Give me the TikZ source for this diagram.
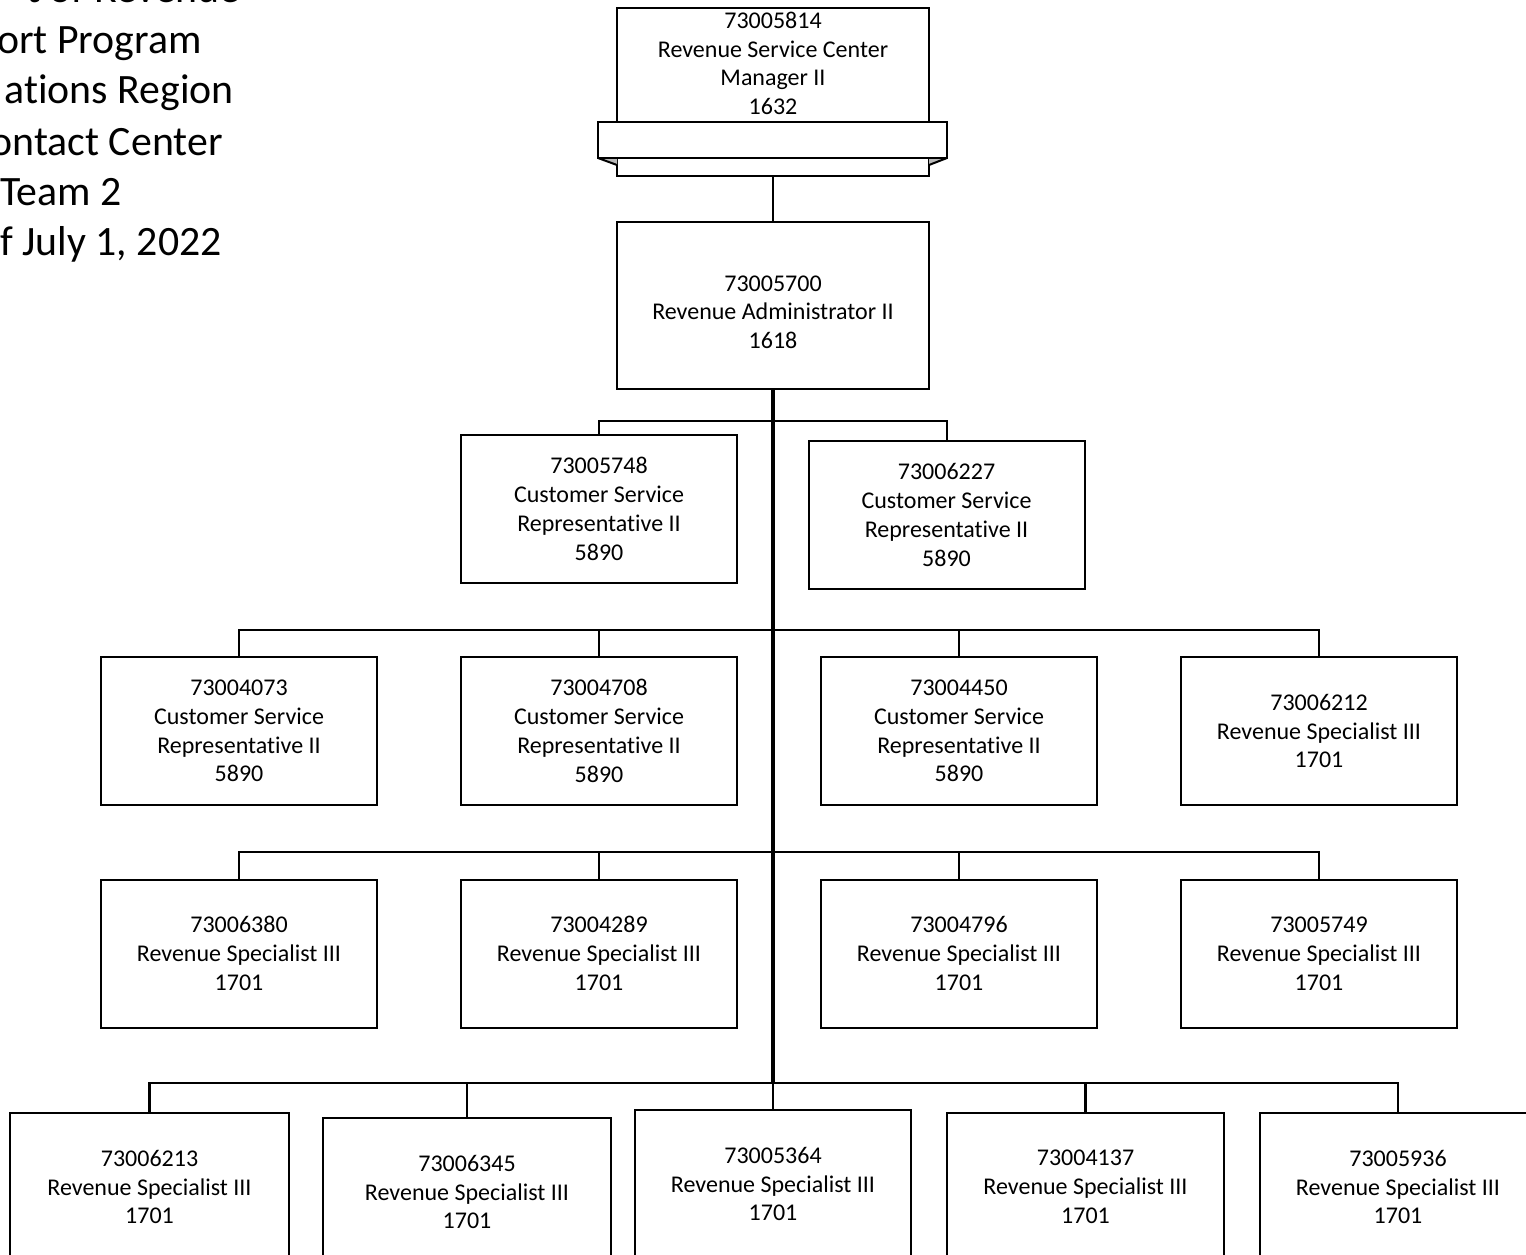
\documentclass[tikz,border=0pt]{standalone}
\usepackage{fontspec}
\setmainfont{Carlito}[Ligatures=NoCommon]
\begin{document}
\begin{tikzpicture}[x=0.5pt,y=-0.5pt,
  box/.style={draw, line width=1pt, fill=white, inner sep=0pt, align=center,
    minimum width=138pt, minimum height=74pt,
    font=\fontsize{12pt}{14.4pt}\selectfont},
  conn/.style={line width=1pt},
  trunk/.style={line width=2pt},
  title/.style={anchor=base east, inner sep=0pt, font=\fontsize{20.9pt}{25pt}\selectfont}]
\useasboundingbox (0,0) rectangle (1526,1254);

% heading, left margin
\node[title] (t1) at (241,2.5) {t of Revenue};
\node[title] (t2) at (202,53) {ort Program};
\node[title] (t3) at (234,103) {ations Region};
\node[title] (t4) at (223,155) {ontact Center};
\node[title] (t5) at (122,205) {Team 2};
\node[title] (t6) at (222,255) {f July 1, 2022};

% manager box with its banner
\node[box, minimum width=156pt, minimum height=84pt] (mgr) at (773,92)
  {73005814\\Revenue Service Center\\Manager II\\1632\\~\\~};
\fill[gray!55] (598,158) -- (617,158) -- (617,165) -- cycle;
\fill[gray!55] (947,158) -- (929,158) -- (929,165) -- cycle;
\draw[line width=1pt] (598,158) -- (617,165);
\draw[line width=1pt] (947,158) -- (929,165);
\node[draw, line width=1pt, fill=white, inner sep=0pt,
  minimum width=174.5pt, minimum height=18pt] (banner) at (772.5,140) {};

% administrator
\node[box, minimum width=156pt, minimum height=83.5pt] (admin) at (773,305.5)
  {~\\73005700\\Revenue Administrator II\\1618};

% row 1
\node[box] (a1) at (599,509) {73005748\\Customer Service\\Representative II\\5890};
\node[box] (a2) at (946.5,515) {73006227\\Customer Service\\Representative II\\5890};

% row 2
\node[box] (b1) at (239,731) {73004073\\Customer Service\\Representative II\\5890};
\node[box] (b2) at (599,731) {73004708\\Customer Service\\Representative II\\5890};
\node[box] (b3) at (959,731) {73004450\\Customer Service\\Representative II\\5890};
\node[box] (b4) at (1319,731) {73006212\\Revenue Specialist III\\1701};

% row 3
\node[box] (c1) at (239,953.5) {73006380\\Revenue Specialist III\\1701};
\node[box] (c2) at (599,953.5) {73004289\\Revenue Specialist III\\1701};
\node[box] (c3) at (959,953.5) {73004796\\Revenue Specialist III\\1701};
\node[box] (c4) at (1319,953.5) {73005749\\Revenue Specialist III\\1701};

% row 4
\node[box, minimum width=139.5pt] (d1) at (149.5,1187) {73006213\\Revenue Specialist III\\1701};
\node[box, minimum width=144pt] (d2) at (467,1192) {73006345\\Revenue Specialist III\\1701};
\node[box] (d3) at (773,1184) {73005364\\Revenue Specialist III\\1701};
\node[box, minimum width=138.5pt] (d4) at (1085.5,1187) {73004137\\Revenue Specialist III\\1701};
\node[box] (d5) at (1398,1187) {73005936\\Revenue Specialist III\\1701};

% connectors
\draw[conn] (mgr.south) -- (admin.north);
\coordinate (bus1) at (773,421);
\coordinate (bus2) at (773,630);
\coordinate (bus3) at (773,852);
\coordinate (bus4) at (773,1083);
\draw[trunk] (admin.south) -- (bus4);
\foreach \n in {a1,a2} \draw[conn] (bus1) -| (\n.north);
\foreach \n in {b1,b2,b3,b4} \draw[conn] (bus2) -| (\n.north);
\foreach \n in {c1,c2,c3,c4} \draw[conn] (bus3) -| (\n.north);
\foreach \n in {d1,d2,d4,d5} \draw[conn, line width=1.2pt] (bus4) -| (\n.north);
\draw[conn] (bus4) -- (d3.north);
\end{tikzpicture}
\end{document}
